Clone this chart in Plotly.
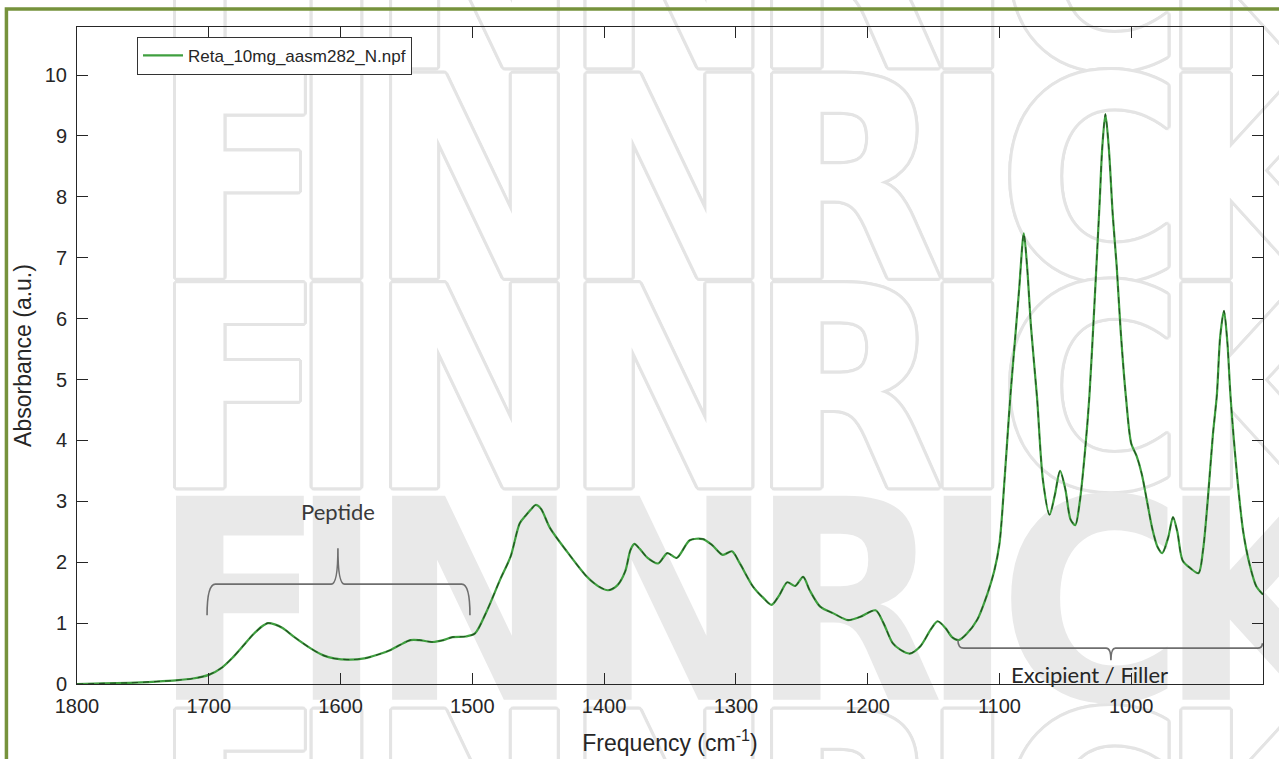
import plotly.graph_objects as go

# ---------------- data ----------------
wavenumber = [1800, 1780, 1760, 1740, 1725, 1712, 1700, 1690, 1682, 1675, 1666, 1660, 1655,
              1650, 1644, 1635, 1623, 1613, 1605, 1593, 1582, 1572, 1562, 1555, 1547, 1540,
              1530, 1522, 1515, 1505, 1498, 1489, 1479, 1471, 1464, 1459, 1455, 1452, 1448,
              1441, 1428, 1413, 1404, 1397, 1390, 1384, 1380, 1377, 1373, 1367, 1359, 1352,
              1345, 1335, 1325, 1318, 1310, 1303, 1297, 1287, 1279, 1273, 1267, 1261, 1255,
              1249, 1244, 1236, 1226, 1215, 1206, 1194, 1188, 1181, 1175, 1168, 1160, 1152,
              1147, 1141, 1136, 1131, 1125, 1117, 1109, 1104, 1100, 1096, 1092, 1088, 1085,
              1081.5, 1079, 1076, 1071.5, 1067, 1062, 1058, 1054, 1050, 1046, 1042.5, 1039,
              1035, 1031.8, 1028, 1024, 1022, 1019.6, 1017, 1014, 1011, 1008, 1004, 1000,
              996, 992, 988, 984, 980, 976.5, 972, 968.3, 965, 961, 955, 949, 945.5, 942,
              938, 935, 932.5, 929.6, 927, 924.6, 920, 915, 910, 905, 900]
absorbance = [0.00, 0.01, 0.02, 0.04, 0.06, 0.09, 0.15, 0.27, 0.43, 0.60, 0.82, 0.94, 1.00,
              0.98, 0.92, 0.77, 0.59, 0.47, 0.42, 0.40, 0.42, 0.48, 0.56, 0.64, 0.72, 0.72,
              0.69, 0.72, 0.77, 0.78, 0.83, 1.20, 1.71, 2.09, 2.64, 2.78, 2.88, 2.94, 2.88,
              2.56, 2.17, 1.76, 1.60, 1.54, 1.62, 1.85, 2.20, 2.30, 2.22, 2.07, 1.98, 2.15,
              2.07, 2.36, 2.38, 2.28, 2.12, 2.18, 1.98, 1.60, 1.41, 1.30, 1.46, 1.67, 1.61,
              1.76, 1.54, 1.27, 1.16, 1.05, 1.10, 1.21, 1.00, 0.67, 0.56, 0.50, 0.62, 0.90,
              1.03, 0.92, 0.77, 0.72, 0.82, 1.05, 1.49, 1.85, 2.30, 3.40, 4.65, 5.70, 6.50,
              7.40, 6.85, 5.85, 4.71, 3.35, 2.78, 3.10, 3.50, 3.20, 2.70, 2.61, 3.00,
              3.84, 4.71, 6.20, 7.90, 8.80, 9.36, 8.80, 7.70, 6.85, 5.80, 4.71, 3.95,
              3.75, 3.45, 3.00, 2.55, 2.25, 2.15, 2.40, 2.74, 2.50, 2.03, 1.90, 1.82, 2.20, 3.00,
              4.10, 4.75, 5.70, 6.13, 5.60, 4.71, 3.50, 2.50, 1.95, 1.60, 1.47]
series_name = "Reta_10mg_aasm282_N.npf"
x_ticks = [1800, 1700, 1600, 1500, 1400, 1300, 1200, 1100, 1000, 900]
y_ticks = [0, 1, 2, 3, 4, 5, 6, 7, 8, 9, 10]
watermark = "FINNRICK"
region_labels = ["Peptide", "Excipient / Filler"]

AX = "#262626"
WM_FONT = "DejaVu Sans Condensed, Liberation Sans Narrow, DejaVu Sans"
WM_SIZE = 280
fig = go.Figure()

# ---------------- watermark (drawn first, so the spectrum sits on top) ----------------
letter_pos = [1677.1, 1603.1, 1498.4, 1350.8, 1215.7, 1124.3, 1030.5, 904.6]
letters = list(watermark)
n = len(letters)

outline = ", ".join(f"{dx}px {dy}px 0 #e4e4e4" for dx, dy in
                    [(3, 0), (-3, 0), (0, 3), (0, -3), (2, 2), (-2, 2), (2, -2), (-2, -2),
                     (3, 1), (3, -1), (-3, 1), (-3, -1), (1, 3), (-1, 3), (1, -3), (-1, -3)])
wm_outline_font = dict(family=WM_FONT, size=WM_SIZE, color="white", weight="bold",
                       shadow=outline)
wm_common = dict(cliponaxis=False, showlegend=False, hoverinfo="skip")

# top row (glyphs mostly above the frame), anchored inside the axis range
fig.add_trace(go.Scatter(x=letter_pos, y=[8.98] * n, mode="text", text=letters,
                         textposition="top center", textfont=wm_outline_font, **wm_common))
# two middle outlined rows
fig.add_trace(go.Scatter(x=letter_pos * 2, y=[7.82] * n + [4.38] * n, mode="text",
                         text=letters * 2, textposition="middle center",
                         textfont=wm_outline_font, **wm_common))
# bottom row (below the x axis), pushed down with an invisible marker offset
fig.add_trace(go.Scatter(x=letter_pos, y=[0.05] * n, mode="markers+text", text=letters,
                         textposition="bottom center", textfont=wm_outline_font,
                         marker=dict(size=35, color="rgba(0,0,0,0)"), **wm_common))
# filled grey row
fig.add_trace(go.Scatter(x=letter_pos, y=[0.89] * n, mode="text", text=letters,
                         textposition="middle center",
                         textfont=dict(family=WM_FONT, size=WM_SIZE, color="#e9e9e9",
                                       weight="bold"), **wm_common))

# ---------------- spectrum ----------------
fig.add_trace(go.Scatter(
    x=wavenumber, y=absorbance, mode="lines", name=series_name,
    line=dict(color="#3f9f3f", width=2.2, shape="spline", smoothing=0.8)))
fig.add_trace(go.Scatter(
    x=wavenumber, y=absorbance, mode="lines", showlegend=False, hoverinfo="skip",
    line=dict(color="#173317", width=1.1, dash="6px,5px", shape="spline", smoothing=0.8),
    opacity=0.75))

# ---------------- braces + labels ----------------
BR = "#6e6e6e"
fig.add_shape(type="path", xref="x", yref="y", layer="above",
              path=("M 1701.3,1.13 Q 1701.3,1.64 1695,1.64 L 1607,1.64 "
                    "Q 1602,1.64 1602,2.23 Q 1602,1.64 1597,1.64 L 1508,1.64 "
                    "Q 1501.8,1.64 1501.8,1.13"),
              line=dict(color=BR, width=1.6))
fig.add_shape(type="path", xref="x", yref="y", layer="above",
              path=("M 1131.5,0.72 Q 1131.5,0.59 1127,0.59 L 1019,0.59 "
                    "Q 1015.4,0.59 1015.4,0.39 Q 1015.4,0.59 1012,0.59 L 904,0.59 "
                    "Q 900.5,0.59 900.5,0.67"),
              line=dict(color=BR, width=1.6))
fig.add_annotation(x=1602, y=2.83, xref="x", yref="y", text=region_labels[0],
                   showarrow=False, font=dict(family="Lato", size=22, color="#3a3a3a"))
fig.add_annotation(x=1032, y=0.15, xref="x", yref="y", text=region_labels[1],
                   showarrow=False, font=dict(family="Lato", size=22, color="#262626"))

# ---------------- outer green frame ----------------
fig.add_shape(type="rect", xref="paper", yref="paper", x0=-0.0595, x1=1.2, y0=-0.3, y1=1.0274,
              line=dict(color="#76923c", width=3.5), fillcolor="rgba(0,0,0,0)", layer="above")

axis_common = dict(showline=True, linecolor=AX, linewidth=1, mirror="allticks",
                   ticks="inside", ticklen=11, tickcolor=AX, tickwidth=1,
                   showgrid=False, zeroline=False,
                   tickfont=dict(family="Liberation Sans, Arial", size=20, color=AX))
fig.update_xaxes(range=[1800, 900], tickvals=x_ticks, ticklabelstandoff=4,
                 title=dict(text="Frequency (cm<sup>-1</sup>)", standoff=18,
                            font=dict(family="Liberation Sans, Arial", size=23, color=AX)),
                 **axis_common)
fig.update_yaxes(range=[0, 10.79], tickvals=y_ticks, ticklabelstandoff=5,
                 title=dict(text="Absorbance (a.u.)", standoff=6,
                            font=dict(family="Liberation Sans, Arial", size=23, color=AX)),
                 **axis_common)

fig.update_layout(
    width=1279, height=759, margin=dict(l=77, r=16, t=27, b=75, autoexpand=False),
    paper_bgcolor="white", plot_bgcolor="rgba(0,0,0,0)",
    showlegend=True,
    legend=dict(x=0.0506, y=0.985, xanchor="left", yanchor="top", bgcolor="white",
                bordercolor="#333333", borderwidth=1, itemwidth=40,
                font=dict(family="Liberation Sans, Arial", size=17, color=AX),
                tracegroupgap=0),
)

fig.write_html("out.html", config={"displayModeBar": False},
               post_script="document.body.style.margin='0';document.body.style.overflow='hidden';")
